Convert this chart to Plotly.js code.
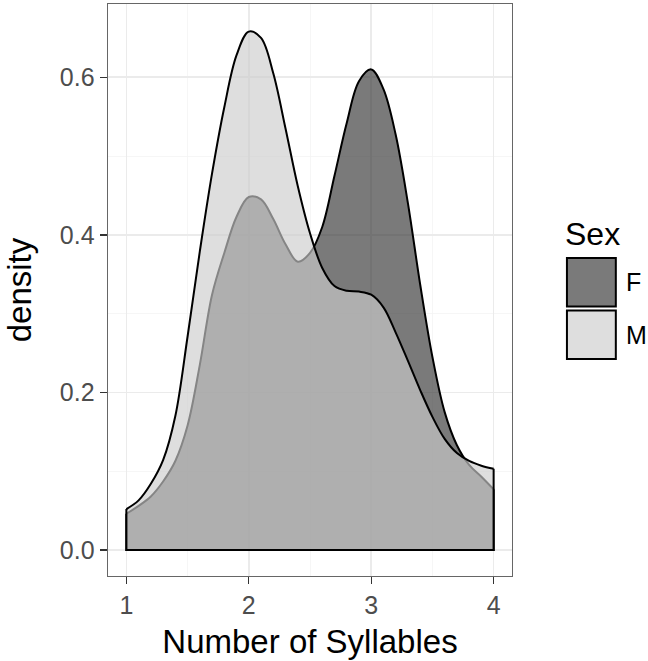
<!DOCTYPE html>
<html>
<head>
<meta charset="utf-8">
<script src="https://cdn.plot.ly/plotly-3.0.1.min.js"></script>
<style>
  html, body { margin: 0; padding: 0; background: #ffffff; }
  #chart { width: 648px; height: 661px; }
</style>
</head>
<body>
<div id="chart"></div>
<script>
// Number of syllables (x grid where density was read)
const syllables = [1.0, 1.1, 1.2, 1.3, 1.4, 1.5, 1.6, 1.7, 1.8, 1.9,
                   2.0, 2.1, 2.2, 2.3, 2.4, 2.5, 2.6, 2.7, 2.8, 2.9,
                   3.0, 3.1, 3.2, 3.3, 3.4, 3.5, 3.6, 3.7, 3.8, 3.9, 4.0];

// Density, Sex = F
const densityF = [0.046, 0.056, 0.068, 0.087, 0.113, 0.158, 0.235, 0.324, 0.377, 0.423,
                  0.448, 0.445, 0.420, 0.388, 0.366, 0.377, 0.410, 0.475, 0.542, 0.595,
                  0.610, 0.585, 0.527, 0.440, 0.337, 0.245, 0.175, 0.133, 0.108, 0.093, 0.077];

// Density, Sex = M
const densityM = [0.052, 0.063, 0.084, 0.114, 0.170, 0.271, 0.379, 0.478, 0.562, 0.628,
                  0.658, 0.650, 0.605, 0.535, 0.462, 0.402, 0.358, 0.335, 0.329, 0.328,
                  0.324, 0.308, 0.276, 0.240, 0.203, 0.169, 0.141, 0.123, 0.113, 0.107, 0.103];

const sexLevels = ['F', 'M'];
const xTicks = [1, 2, 3, 4];
const yTicks = [0.0, 0.2, 0.4, 0.6];

const fills = {
  F: 'rgba(51,51,51,0.65)',
  M: 'rgba(204,204,204,0.65)'
};

const outline = { color: '#000000', width: 2 };

function groupTraces(name, xs, ys) {
  const n = xs.length;
  // filled density curve (fill runs straight down to zero at both ends)
  const area = {
    type: 'scatter',
    mode: 'lines',
    name: name,
    x: xs,
    y: ys,
    fill: 'tozeroy',
    fillcolor: fills[name],
    line: { color: outline.color, width: outline.width, shape: 'spline', smoothing: 1 },
    hoverinfo: 'x+y+name',
    showlegend: false
  };
  // outline of the polygon: end edges and baseline
  const edges = {
    type: 'scatter',
    mode: 'lines',
    name: name,
    x: [xs[0], xs[0], xs[n - 1], xs[n - 1]],
    y: [ys[0], 0, 0, ys[n - 1]],
    line: { color: outline.color, width: outline.width },
    hoverinfo: 'skip',
    showlegend: false
  };
  return [area, edges];
}

const series = { F: densityF, M: densityM };
let traces = [];
sexLevels.forEach(s => { traces = traces.concat(groupTraces(s, syllables, series[s])); });

const fontFam = '"Liberation Sans", Arial, Helvetica, sans-serif';

// custom legend (large ggplot-style keys)
const shapes = [];
const annotations = [];
const keyX0 = 1.136, keyX1 = 1.257;
const keyTops = [0.5559, 0.4640];
const keyH = 0.0848;
sexLevels.forEach((s, i) => {
  shapes.push({
    type: 'rect', xref: 'paper', yref: 'paper',
    x0: keyX0, x1: keyX1, y0: keyTops[i] - keyH, y1: keyTops[i],
    fillcolor: fills[s], line: { color: '#000000', width: 2 }, layer: 'above'
  });
  annotations.push({
    xref: 'paper', yref: 'paper', x: 1.276, y: keyTops[i] - keyH / 2,
    xanchor: 'left', yanchor: 'middle', showarrow: false,
    text: s, font: { family: fontFam, size: 25, color: '#000000' }
  });
});
annotations.push({
  xref: 'paper', yref: 'paper', x: 1.126, y: 0.598,
  xanchor: 'left', yanchor: 'middle', showarrow: false,
  text: 'Sex', font: { family: fontFam, size: 32, color: '#000000' }
});

const layout = {
  width: 648,
  height: 661,
  margin: { l: 108, r: 136, t: 4, b: 85 },
  paper_bgcolor: '#ffffff',
  plot_bgcolor: '#ffffff',
  font: { family: fontFam, color: '#000000' },
  showlegend: false,
  xaxis: {
    range: [0.85, 4.15],
    tickvals: xTicks,
    ticktext: xTicks.map(String),
    ticks: 'outside', ticklen: 7, tickwidth: 1.3, tickcolor: '#333333',
    tickfont: { family: fontFam, size: 25, color: '#4d4d4d' },
    showgrid: true, gridcolor: '#ebebeb', gridwidth: 1.6,
    minor: { dtick: 0.5, tick0: 1, showgrid: true, gridcolor: '#f4f4f4', gridwidth: 0.8, ticks: '' },
    zeroline: false,
    showline: true, mirror: true, linecolor: '#666666', linewidth: 1.4,
    title: { text: 'Number of Syllables', font: { family: fontFam, size: 33, color: '#000000' }, standoff: 11 }
  },
  yaxis: {
    range: [-0.033, 0.693],
    tickvals: yTicks,
    ticktext: yTicks.map(v => v.toFixed(1)),
    ticks: 'outside', ticklen: 7, tickwidth: 1.3, tickcolor: '#333333',
    tickfont: { family: fontFam, size: 25, color: '#4d4d4d' },
    showgrid: true, gridcolor: '#ebebeb', gridwidth: 1.6,
    minor: { dtick: 0.1, tick0: 0, showgrid: true, gridcolor: '#f4f4f4', gridwidth: 0.8, ticks: '' },
    zeroline: false,
    showline: true, mirror: true, linecolor: '#666666', linewidth: 1.4,
    title: { text: 'density', font: { family: fontFam, size: 33, color: '#000000' }, standoff: 18 }
  },
  shapes: shapes,
  annotations: annotations
};

Plotly.newPlot('chart', traces, layout, { displayModeBar: false, staticPlot: true });
</script>
</body>
</html>
